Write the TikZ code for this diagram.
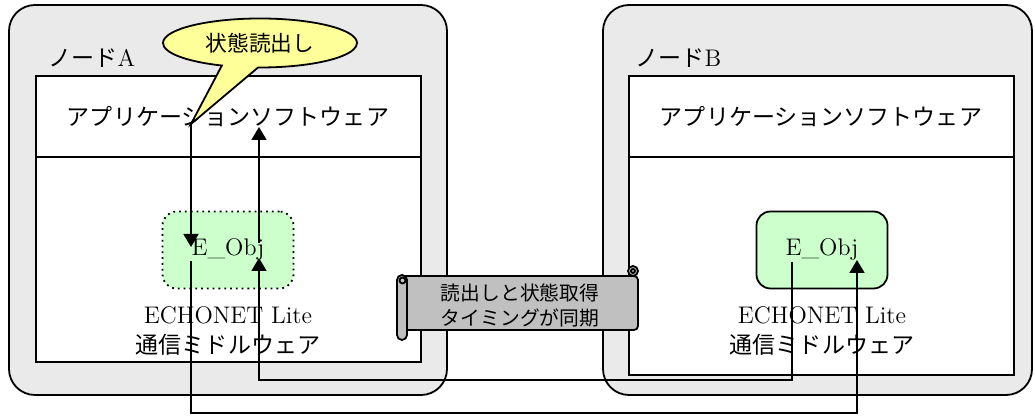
\documentclass[tikz,border=0pt]{standalone}
\usepackage{fontspec}
\newfontfamily\jp{Noto Sans CJK JP}[Scale=0.96]
\usetikzlibrary{arrows.meta,shapes.callouts}
\definecolor{MyGray}{HTML}{EAEAEA}
\definecolor{MyGreen}{HTML}{CCFFCC}
\definecolor{MyYellow}{HTML}{FFFF99}
\definecolor{MyScroll}{HTML}{C0C0C0}
\tikzset{
  nodebox/.style={draw, line width=0.9pt, fill=MyGray, rounded corners=13pt},
  layerbox/.style={draw, line width=0.9pt, fill=white},
  objbox/.style={draw, line width=0.9pt, fill=MyGreen, rounded corners=7pt,
    minimum width=65.5pt, minimum height=38.5pt},
  arr/.style={line width=0.9pt, -{Triangle[width=7.5pt,length=6.5pt]}},
  line/.style={line width=0.9pt}
}

\begin{document}
\begin{tikzpicture}[x=0.5pt, y=-0.5pt, font=\fontsize{12}{15}\selectfont]
\useasboundingbox (0,0) rectangle (1035,416);

% ノードA
\draw[nodebox] (9,5) rectangle (447,395);
\draw[layerbox] (36,76) rectangle (421,362);
\draw[line] (36,157) -- (421,157);
\node[anchor=west, inner sep=0pt] (labA) at (48,58) {{\jp ノード}A};
\node (appA) at (228,117) {\jp アプリケーションソフトウェア};
\node[objbox, dotted] (objA) at (228,250) {E\_Obj};
\node[align=center] (mwA) at (228,331) {ECHONET Lite\\{\jp 通信ミドルウェア}};

% ノードB
\draw[nodebox] (603,5) rectangle (1032,395);
\draw[layerbox] (629,76) rectangle (1014,375);
\draw[line] (629,157) -- (1014,157);
\node[anchor=west, inner sep=0pt] (labB) at (635,58) {{\jp ノード}B};
\node (appB) at (821,117) {\jp アプリケーションソフトウェア};
\node[objbox] (objB) at (822,250) {E\_Obj};
\node[align=center] (mwB) at (822,331) {ECHONET Lite\\{\jp 通信ミドルウェア}};

% 吹き出し
\coordinate (tipA) at (191,124);
\node[ellipse callout, draw, line width=0.9pt, fill=MyYellow, inner sep=0pt,
  minimum width=97pt, minimum height=24.5pt, callout pointer arc=22,
  callout absolute pointer={(tipA)}, font=\fontsize{11.3}{13}\selectfont\jp]
  (callA) at (260,43) {状態読出し};

% 矢印
\coordinate (objInA) at (191,247);
\coordinate (sendA) at (191,261);
\coordinate (recvB) at (857,260);
\coordinate (sendB) at (792,262);
\coordinate (recvA) at (259,258);
\coordinate (upA) at (259,243);
\coordinate (appInA) at (259,127);
\draw[arr] (tipA) -- (objInA);
\draw[arr] (sendA) -- (191,413) -| (recvB);
\draw[arr] (sendB) -- (792,380) -| (recvA);
\draw[arr] (upA) -- (appInA);

% 巻物
\draw[line, fill=MyScroll, rounded corners=2pt] (402,276) rectangle (638,330);
\draw[line, fill=MyScroll] (633,271) circle (5);
\draw[line] (633,271) circle (2);
\draw[line, fill=MyScroll, rounded corners=2.5pt] (397,275) rectangle (407,340);
\draw[line] (402.5,280.5) circle (3);
\node[align=center, font=\fontsize{10.3}{12.5}\selectfont\jp] (syncNote) at (520,305)
  {読出しと状態取得\\タイミングが同期};
\end{tikzpicture}
\end{document}
